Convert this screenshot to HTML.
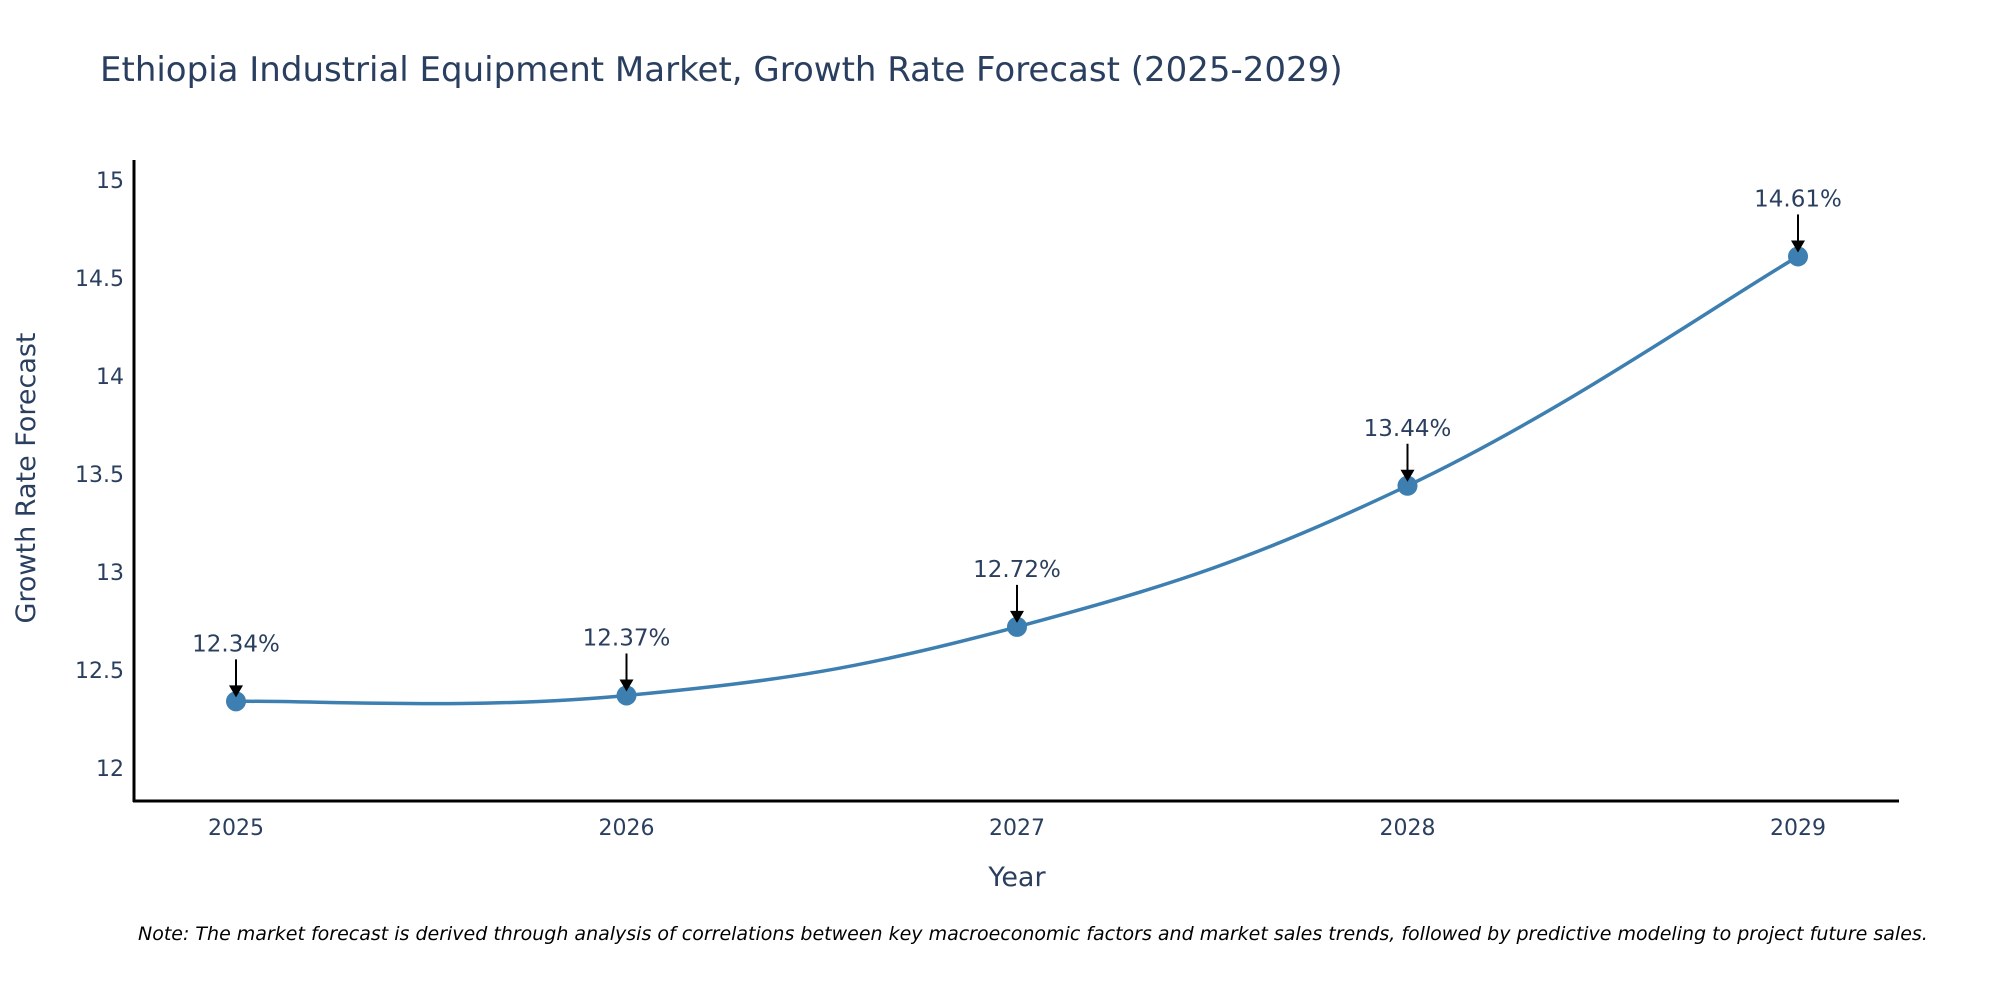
<!DOCTYPE html>
<html><head><meta charset="utf-8"><style>
body{margin:0;background:#fff;}
svg text{font-family:"DejaVu Sans","Liberation Sans",sans-serif;}
</style></head><body>
<svg id="chart" width="2000" height="1000">
<rect width="2000" height="1000" fill="#fff"/>
<text x="100" y="81" font-size="34" fill="#2a3f5f">Ethiopia Industrial Equipment Market, Growth Rate Forecast (2025-2029)</text>
<g id="yticks"></g><g id="xticks"></g>
<line x1="134" y1="160" x2="134" y2="802" stroke="#000" stroke-width="3"/>
<line x1="133" y1="801" x2="1899" y2="801" stroke="#000" stroke-width="3"/>
<path id="line" fill="none" stroke="#3d7fb0" stroke-width="3.5"/>
<g id="points"></g><g id="annots"></g>
<text x="0" y="0" transform="translate(35,478) rotate(-90)" text-anchor="middle" font-size="27" fill="#2a3f5f">Growth Rate Forecast</text>
<text x="1017" y="886" text-anchor="middle" font-size="27" fill="#2a3f5f">Year</text>
<text x="138" y="940" font-size="19" font-style="italic" fill="#000">Note: The market forecast is derived through analysis of correlations between key macroeconomic factors and market sales trends, followed by predictive modeling to project future sales.</text>
</svg>
<script>
const years=[2025,2026,2027,2028,2029];
const values=[12.34,12.37,12.72,13.44,14.61];
const yTicks=[12,12.5,13,13.5,14,14.5,15];
const NS="http://www.w3.org/2000/svg";
function xs(i){return 236+(1798-236)*(i/(years.length-1));}
function ys(v){return 768-(v-12)*(768-180)/3;}
function mk(t,a,p){const e=document.createElementNS(NS,t);for(const k in a)e.setAttribute(k,a[k]);p.appendChild(e);return e;}
const yt=document.getElementById('yticks');
yTicks.forEach(v=>{const t=mk('text',{x:124,y:ys(v)+8,'text-anchor':'end','font-size':22,fill:'#2a3f5f'},yt);t.textContent=String(v);

});
const xt=document.getElementById('xticks');
years.forEach((y,i)=>{const t=mk('text',{x:xs(i),y:835,'text-anchor':'middle','font-size':22,fill:'#2a3f5f'},xt);t.textContent=String(y);

});
const P=values.map((v,i)=>[xs(i),ys(v)]);
let d='M'+P[0][0]+','+P[0][1];
for(let i=0;i<P.length-1;i++){const p0=P[Math.max(0,i-1)],p1=P[i],p2=P[i+1],p3=P[Math.min(P.length-1,i+2)];
const s=0.2;
d+=` C${p1[0]+(p2[0]-p0[0])*s},${p1[1]+(p2[1]-p0[1])*s} ${p2[0]-(p3[0]-p1[0])*s},${p2[1]-(p3[1]-p1[1])*s} ${p2[0]},${p2[1]}`;}
document.getElementById('line').setAttribute('d',d);
const pts=document.getElementById('points'),an=document.getElementById('annots');
P.forEach((p,i)=>{const c=mk('circle',{cx:p[0],cy:p[1],r:10,fill:'#3d7fb0'},pts);


const l=mk('line',{x1:p[0],y1:p[1]-42,x2:p[0],y2:p[1]-14,stroke:'#000','stroke-width':2},an);


const h=mk('polygon',{points:`${p[0]-7},${p[1]-16} ${p[0]+7},${p[1]-16} ${p[0]},${p[1]-4}`,fill:'#000'},an);


const t=mk('text',{x:p[0],y:p[1]-50,'text-anchor':'middle','font-size':23,fill:'#2a3f5f'},an);t.textContent=values[i].toFixed(2)+'%';

});
</script>
</body></html>
